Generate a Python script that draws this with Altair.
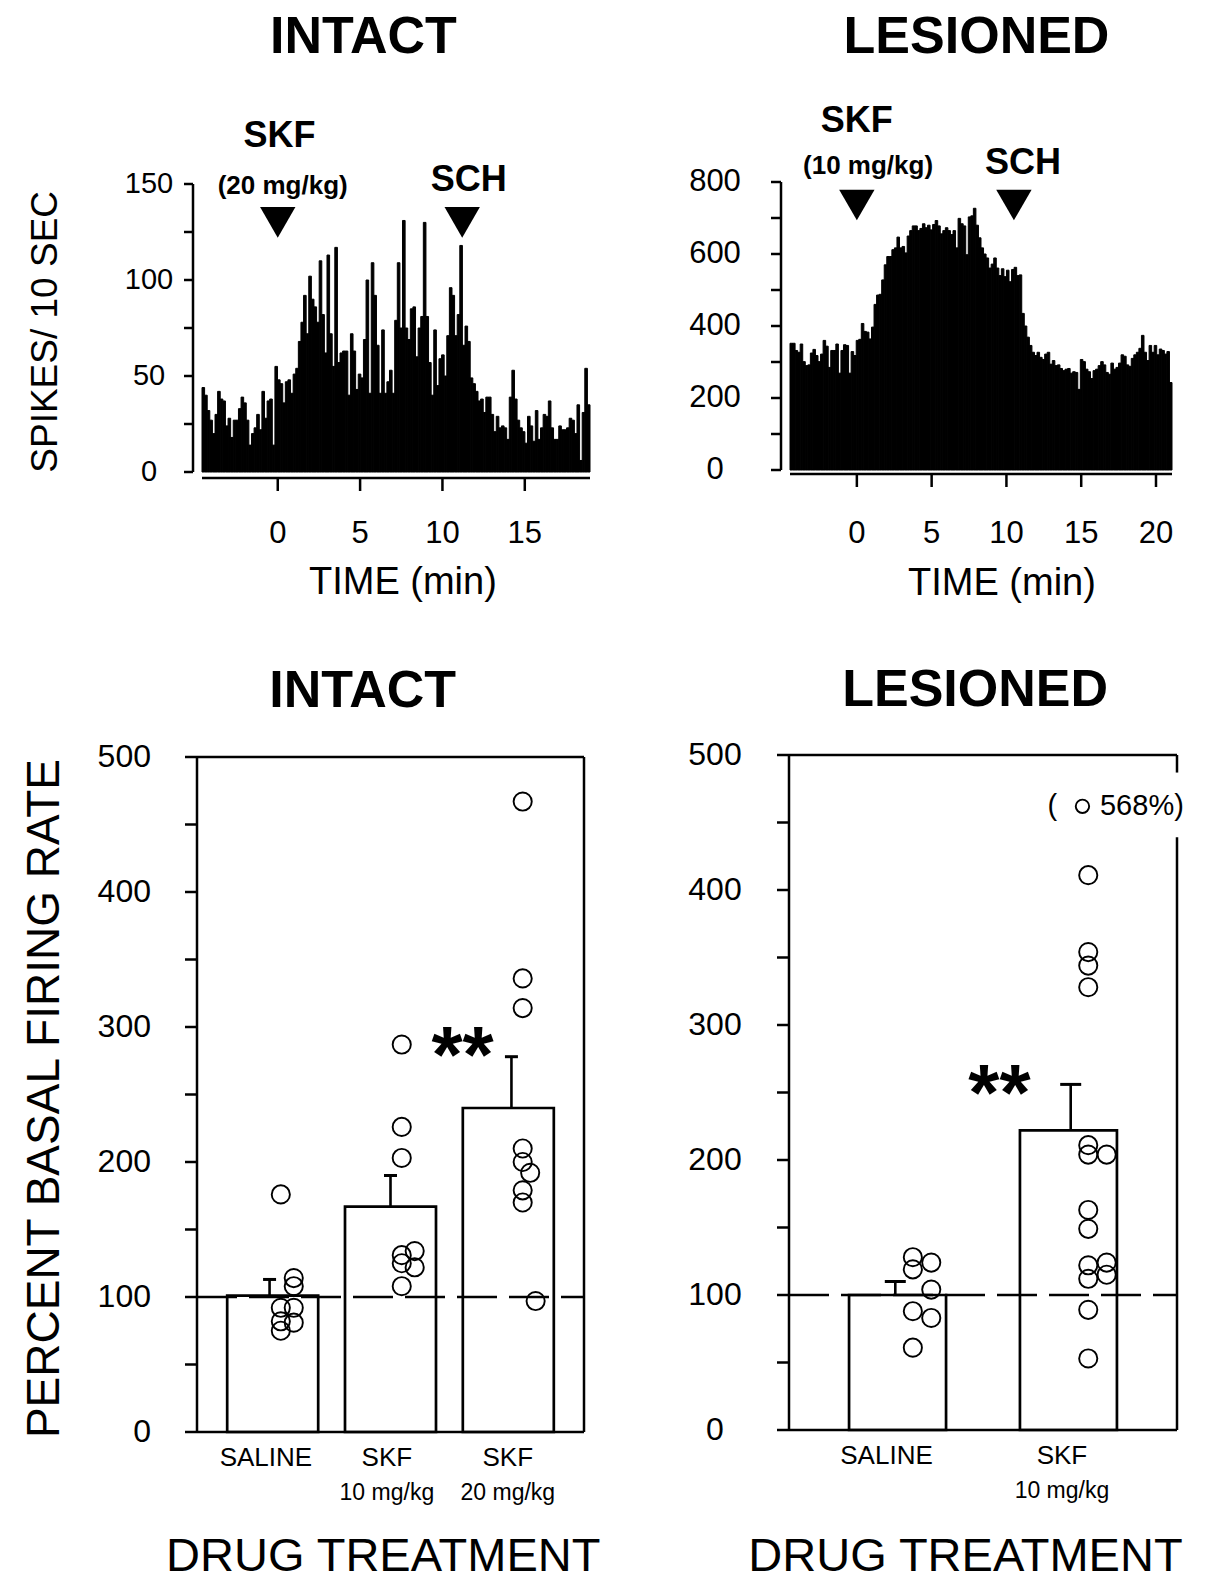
import altair as alt
import pandas as pd

FONT = "Liberation Sans"

# ---------------- data ----------------
# spikes / 10 s, intact rat (SKF 20 mg/kg at t=0, SCH at ~11 min)
intact_counts = [
    44, 40, 32, 27, 20, 30, 42, 38, 37, 24, 28, 18, 27, 27, 33, 39, 36, 27, 14, 20,
    23, 30, 22, 42, 28, 37, 38, 14, 55, 48, 46, 36, 47, 48, 41, 51, 54, 68, 78, 92,
    72, 102, 90, 86, 78, 110, 82, 62, 113, 72, 55, 117, 57, 62, 63, 63, 40, 72, 63, 43,
    51, 49, 69, 100, 41, 109, 92, 66, 41, 74, 41, 47, 53, 41, 79,
    109, 75, 131, 75, 69, 85, 86, 60, 75, 81, 130, 81, 57, 40, 74, 45, 59, 61, 50, 71,
    96, 92, 71, 82, 118, 66, 76, 68, 49, 46, 42, 37, 38, 31, 39, 39, 30, 21, 29, 23,
    24, 23, 17, 39, 53, 38, 27, 23, 21, 15, 29, 24, 16, 32, 17, 23, 30, 29, 37, 23,
    17, 17, 24, 22, 22, 23, 28, 27, 20, 35, 6, 31, 54, 35,
]
# spikes / 10 s, lesioned rat (SKF 10 mg/kg at t=0, SCH at ~10.5 min)
lesioned_counts = [
    352, 352, 332, 327, 350, 301, 290, 292, 325, 335, 318, 301, 322, 360, 344, 285, 332, 332, 350, 269,
    332, 348, 346, 269, 329, 318, 360, 363, 407, 385, 383, 364, 397, 460, 486, 488, 528, 570, 593, 593,
    612, 617, 647, 617, 621, 603, 650, 665, 678, 678, 665, 671, 684, 673, 680, 667, 682, 693, 678, 656,
    665, 673, 665, 654, 665, 617, 699, 684, 678, 598, 703,
    706, 727, 680, 645, 617, 600, 589, 561, 572, 589, 561, 540, 559, 537, 555, 523, 557, 563, 540, 542,
    435, 400, 369, 346, 327, 318, 327, 313, 307, 322, 327, 294, 304, 290, 292, 282, 276, 280, 282, 269,
    273, 271, 224, 307, 301, 280, 273, 254, 276, 280, 290, 301, 292, 271, 266, 297, 280, 285, 297, 320,
    316, 292, 288, 310, 320, 327, 338, 374, 327, 304, 346, 327, 346, 320, 336, 332, 322, 329, 243,
]
intact_window = [-4.6, 18.96]      # minutes spanned by the histogram
lesioned_window = [-4.47, 21.07]
intact_skf_t, intact_sch_t = 0.0, 11.2
lesioned_skf_t, lesioned_sch_t = 0.0, 10.5

intact_y_ticks = list(range(0, 151, 25))
intact_y_labels = [0, 50, 100, 150]
intact_x_ticks = [0, 5, 10, 15]
lesioned_y_ticks = list(range(0, 801, 100))
lesioned_y_labels = [0, 200, 400, 600, 800]
lesioned_x_ticks = [0, 5, 10, 15, 20]
pct_y_ticks = list(range(0, 501, 50))
pct_y_labels = [0, 100, 200, 300, 400, 500]

# bar graphs: percent of basal firing rate
intact_groups = ["SALINE", "SKF", "SKF"]
intact_doses = ["", "10 mg/kg", "20 mg/kg"]
intact_means = [101, 167, 240]
intact_sem_top = [113, 190, 278]
intact_pts_group = [1] * 8 + [2] * 8 + [3] * 9
intact_pts_value = [176, 114, 108, 92, 92, 82, 81, 75,
                    287, 226, 203, 134, 131, 125, 122, 108,
                    467, 336, 314, 210, 200, 192, 179, 170, 97]
intact_pts_col = [0, 2, 2, 0, 2, 0, 2, 0,
                  0, 0, 0, 2, 0, 0, 2, 0,
                  0, 0, 0, 0, 0, 1, 0, 0, 2]

lesioned_groups = ["SALINE", "SKF"]
lesioned_doses = ["", "10 mg/kg"]
lesioned_means = [100, 222]
lesioned_sem_top = [110, 256]
lesioned_pts_group = [1] * 7 + [2] * 15
lesioned_pts_value = [128, 124, 119, 104, 88, 83, 61,
                      411, 354, 344, 328, 211, 204, 204, 163, 149, 122, 124, 112, 115, 89, 53]
lesioned_pts_col = [0, 1, 0, 1, 0, 1, 0,
                    0, 0, 0, 0, 0, 0, 1, 0, 0, 0, 1, 0, 1, 0, 0]
lesioned_outlier_pct = 568          # off-scale point, drawn at the top of the frame
lesioned_outlier_plot = 462

W, H = 1212, 1580

# ---------------- scales (pixel ranges place the four panels) ----------------
TLX = alt.Scale(domain=intact_window, range=[202, 590], nice=False, zero=False)
TLY = alt.Scale(domain=[0, 150], range=[472, 184], nice=False, zero=False)
TRX = alt.Scale(domain=lesioned_window, range=[790, 1172], nice=False, zero=False)
TRY = alt.Scale(domain=[0, 800], range=[470, 182], nice=False, zero=False)
BLX = alt.Scale(domain=[0.4, 3.6], range=[197, 584], nice=False, zero=False)
BLY = alt.Scale(domain=[0, 500], range=[1432, 757], nice=False, zero=False)
BRX = alt.Scale(domain=[0.394, 2.606], range=[789, 1177], nice=False, zero=False)
BRY = alt.Scale(domain=[0, 500], range=[1430, 755], nice=False, zero=False)

LW = 2.5


def X(f, sc):
    return alt.X(f, type="quantitative", scale=sc, axis=None)


def Y(f, sc):
    return alt.Y(f, type="quantitative", scale=sc, axis=None)


def texts(rows, sx, sy, **mk):
    df = pd.DataFrame(rows, columns=["x", "y", "t"])
    style = dict(font=FONT, color="black")
    style.update(mk)
    return alt.Chart(df).mark_text(**style).encode(x=X("x", sx), y=Y("y", sy), text="t:N")


def y_axis(sx, sy, x0, ticks, labels, gap, tlen, ldx, fsize, align="right"):
    line = alt.Chart(pd.DataFrame({"x": [x0], "a": [min(ticks)], "b": [max(ticks)]})).mark_rule(
        color="black", strokeWidth=LW, xOffset=-gap).encode(x=X("x", sx), y=Y("a", sy), y2="b:Q")
    tk = alt.Chart(pd.DataFrame({"x": [x0] * len(ticks), "y": ticks})).mark_rule(
        color="black", strokeWidth=LW, xOffset=-gap, x2Offset=-gap - tlen).encode(
        x=X("x", sx), x2="x:Q", y=Y("y", sy))
    lab = texts([(x0, v, str(v)) for v in labels], sx, sy, fontSize=fsize, align=align,
                baseline="middle", dx=ldx)
    return [line, tk, lab]


def x_axis(sx, sy, span, y0, ticks, gap, tlen, ldy, fsize):
    line = alt.Chart(pd.DataFrame({"a": [span[0]], "b": [span[1]], "y": [y0]})).mark_rule(
        color="black", strokeWidth=LW, yOffset=gap).encode(x=X("a", sx), x2="b:Q", y=Y("y", sy))
    tk = alt.Chart(pd.DataFrame({"x": ticks, "y": [y0] * len(ticks)})).mark_rule(
        color="black", strokeWidth=LW, yOffset=gap, y2Offset=gap + tlen).encode(
        x=X("x", sx), y=Y("y", sy), y2="y:Q")
    lab = texts([(v, y0, str(v)) for v in ticks], sx, sy, fontSize=fsize, baseline="middle", dy=ldy)
    return [line, tk, lab]


def hist_df(counts, window):
    n = len(counts)
    dt = (window[1] - window[0]) / n
    return pd.DataFrame({
        "a": [window[0] + i * dt for i in range(n)],
        "b": [window[0] + (i + 1) * dt for i in range(n)],
        "c": counts,
        "z": [0] * n,
    })


def triangles(xs, yval, sx, sy, size):
    df = pd.DataFrame({"x": xs, "y": [yval] * len(xs)})
    return alt.Chart(df).mark_point(shape="triangle-down", filled=True, color="black",
                                    size=size, opacity=1).encode(x=X("x", sx), y=Y("y", sy))


def histogram_panel(counts, window, sx, sy, axes, skf_t, sch_t, dose, title,
                    title_pos, skf_pos, dose_pos, sch_pos, tri_y, time_pos, ylabel_pos):
    df = hist_df(counts, window)
    bars = alt.Chart(df).mark_rect(color="black", stroke="black", strokeWidth=1.0).encode(
        x=X("a", sx), x2="b:Q", y=Y("c", sy), y2="z:Q")
    layers = [bars] + axes + [
        triangles([skf_t, sch_t], tri_y, sx, sy, 1250),
        texts([(skf_pos[0], skf_pos[1], "SKF"), (sch_pos[0], sch_pos[1], "SCH")], sx, sy,
              fontSize=36, fontWeight="bold"),
        texts([(dose_pos[0], dose_pos[1], dose)], sx, sy, fontSize=26, fontWeight="bold"),
        texts([(title_pos[0], title_pos[1], title)], sx, sy, fontSize=52, fontWeight="bold"),
        texts([(time_pos[0], time_pos[1], "TIME (min)")], sx, sy, fontSize=38)]
    if ylabel_pos is not None:
        layers.append(texts([(ylabel_pos[0], ylabel_pos[1], "SPIKES/ 10 SEC")], sx, sy,
                            fontSize=37, angle=270))
    return layers


tl = histogram_panel(
    intact_counts, intact_window, TLX, TLY,
    y_axis(TLX, TLY, intact_window[0], intact_y_ticks, intact_y_labels, 9, 9, -53, 29, "center")
    + x_axis(TLX, TLY, intact_window, 0, intact_x_ticks, 6, 13, 62, 31),
    intact_skf_t, intact_sch_t, "(20 mg/kg)", "INTACT",
    (5.2, 226.5), (0.1, 175), (0.3, 149), (11.6, 152), 130, (7.6, -58), (-14.1, 73))

tr = histogram_panel(
    lesioned_counts, lesioned_window, TRX, TRY,
    y_axis(TRX, TRY, lesioned_window[0], lesioned_y_ticks, lesioned_y_labels, 9, 10, -75, 31,
           "center")
    + x_axis(TRX, TRY, lesioned_window, 0, lesioned_x_ticks, 4, 13, 64, 31),
    lesioned_skf_t, lesioned_sch_t, "(10 mg/kg)", "LESIONED",
    (8.0, 1202), (0.0, 969), (0.75, 844), (11.1, 853), 736, (9.7, -317), None)


def bar_panel(groups, doses, means, tops, pg, pv, pc, col_dx, sx, sy, axes,
              xmin, xmax, bar_px, cap_px, title, title_pos, star_pos, cat_dx, extra=None,
              right_gaps=None, ylabel_pos=None, drug_pos=None):
    n = len(groups)
    pos = list(range(1, n + 1))
    bdf = pd.DataFrame({"p": pos, "m": means, "top": tops})
    bars = alt.Chart(bdf).mark_bar(orient="vertical", size=bar_px, fill="white", stroke="black",
                                   strokeWidth=2.7).encode(x=X("p", sx), y=Y("m", sy))
    err = alt.Chart(bdf).mark_rule(color="black", strokeWidth=2.6).encode(
        x=X("p", sx), y=Y("m", sy), y2="top:Q")
    cap = alt.Chart(bdf).mark_tick(orient="horizontal", size=cap_px, thickness=3,
                                   color="black", opacity=1).encode(x=X("p", sx), y=Y("top", sy))
    ref = pd.DataFrame({"a": [xmin], "b": [xmax], "y": [100]})
    dash = alt.Chart(ref).mark_rule(color="black", strokeWidth=2.4, strokeDash=[40, 12]).encode(
        x=X("a", sx), x2="b:Q", y=Y("y", sy))
    top = pd.DataFrame({"a": [xmin], "b": [xmax], "y": [500]})
    frame_top = alt.Chart(top).mark_rule(color="black", strokeWidth=LW).encode(
        x=X("a", sx), x2="b:Q", y=Y("y", sy))
    base = pd.DataFrame({"a": [xmin], "b": [xmax], "y": [0]})
    baseline = alt.Chart(base).mark_rule(color="black", strokeWidth=LW).encode(
        x=X("a", sx), x2="b:Q", y=Y("y", sy))
    segs = right_gaps if right_gaps else [(0, 500)]
    rdf = pd.DataFrame({"x": [xmax] * len(segs), "y0": [s[0] for s in segs],
                        "y1": [s[1] for s in segs]})
    frame_right = alt.Chart(rdf).mark_rule(color="black", strokeWidth=LW).encode(
        x=X("x", sx), y=Y("y0", sy), y2="y1:Q")
    pdf = pd.DataFrame({"x": [g + col_dx[c] for g, c in zip(pg, pc)], "y": pv})
    pts = alt.Chart(pdf).mark_point(shape="circle", size=330, filled=False, color="black",
                                    strokeWidth=1.9, opacity=1).encode(x=X("x", sx), y=Y("y", sy))
    layers = [bars, dash, err, cap, frame_top, frame_right, baseline] + axes + [pts,
              texts([(title_pos[0], title_pos[1], title)], sx, sy, fontSize=52, fontWeight="bold"),
              texts([(star_pos[0], star_pos[1], "**")], sx, sy, fontSize=80, fontWeight="bold",
                    baseline="alphabetic"),
              texts([(p + cat_dx, -19, g) for p, g in zip(pos, groups)], sx, sy, fontSize=26),
              texts([(p + cat_dx, -45, d) for p, d in zip(pos, doses) if d], sx, sy, fontSize=23),
              texts([(drug_pos[0], drug_pos[1], "DRUG TREATMENT")], sx, sy, fontSize=47)]
    if ylabel_pos is not None:
        layers.append(texts([(ylabel_pos[0], ylabel_pos[1], "PERCENT  BASAL  FIRING  RATE")],
                            sx, sy, fontSize=46, angle=270))
    if extra:
        layers += extra
    return layers


bl = bar_panel(
    intact_groups, intact_doses, intact_means, intact_sem_top,
    intact_pts_group, intact_pts_value, intact_pts_col, [0.093, 0.155, 0.2], BLX, BLY,
    y_axis(BLX, BLY, 0.4, pct_y_ticks, pct_y_labels, 0, 12, -46, 32),
    0.4, 3.6, 91, 13, "INTACT", (1.77, 549), (2.596, 259), -0.03,
    ylabel_pos=(-0.86, 247), drug_pos=(1.94, -92.6))

# off-scale lesioned point with its label
out_df = pd.DataFrame({"x": [2.067], "y": [lesioned_outlier_plot]})
outlier = alt.Chart(out_df).mark_point(shape="circle", size=180, filled=False, color="black",
                                       strokeWidth=1.9, opacity=1).encode(x=X("x", BRX), y=Y("y", BRY))
out_txt = [
    texts([(1.895, lesioned_outlier_plot, "(")], BRX, BRY, fontSize=29, baseline="middle"),
    texts([(2.167, lesioned_outlier_plot, f"{lesioned_outlier_pct}%)")], BRX, BRY, fontSize=29,
          align="left", baseline="middle"),
]

br = bar_panel(
    lesioned_groups, lesioned_doses, lesioned_means, lesioned_sem_top,
    lesioned_pts_group, lesioned_pts_value, lesioned_pts_col, [0.1, 0.205], BRX, BRY,
    y_axis(BRX, BRY, 0.394, pct_y_ticks, pct_y_labels, 0, 12, -74, 32, "center"),
    0.394, 2.606, 97, 21, "LESIONED", (1.455, 548), (1.594, 230), -0.05,
    extra=[outlier] + out_txt, right_gaps=[(487, 500), (0, 439)], drug_pos=(1.4, -94))

chart = alt.layer(*(tl + tr + bl + br)).resolve_scale(
    x="independent", y="independent").properties(
    width=W, height=H, padding=0, autosize=alt.AutoSizeParams(type="none"),
    background="white").configure_view(stroke=None)

chart.save("out.html", embed_options={"renderer": "svg", "actions": False})
